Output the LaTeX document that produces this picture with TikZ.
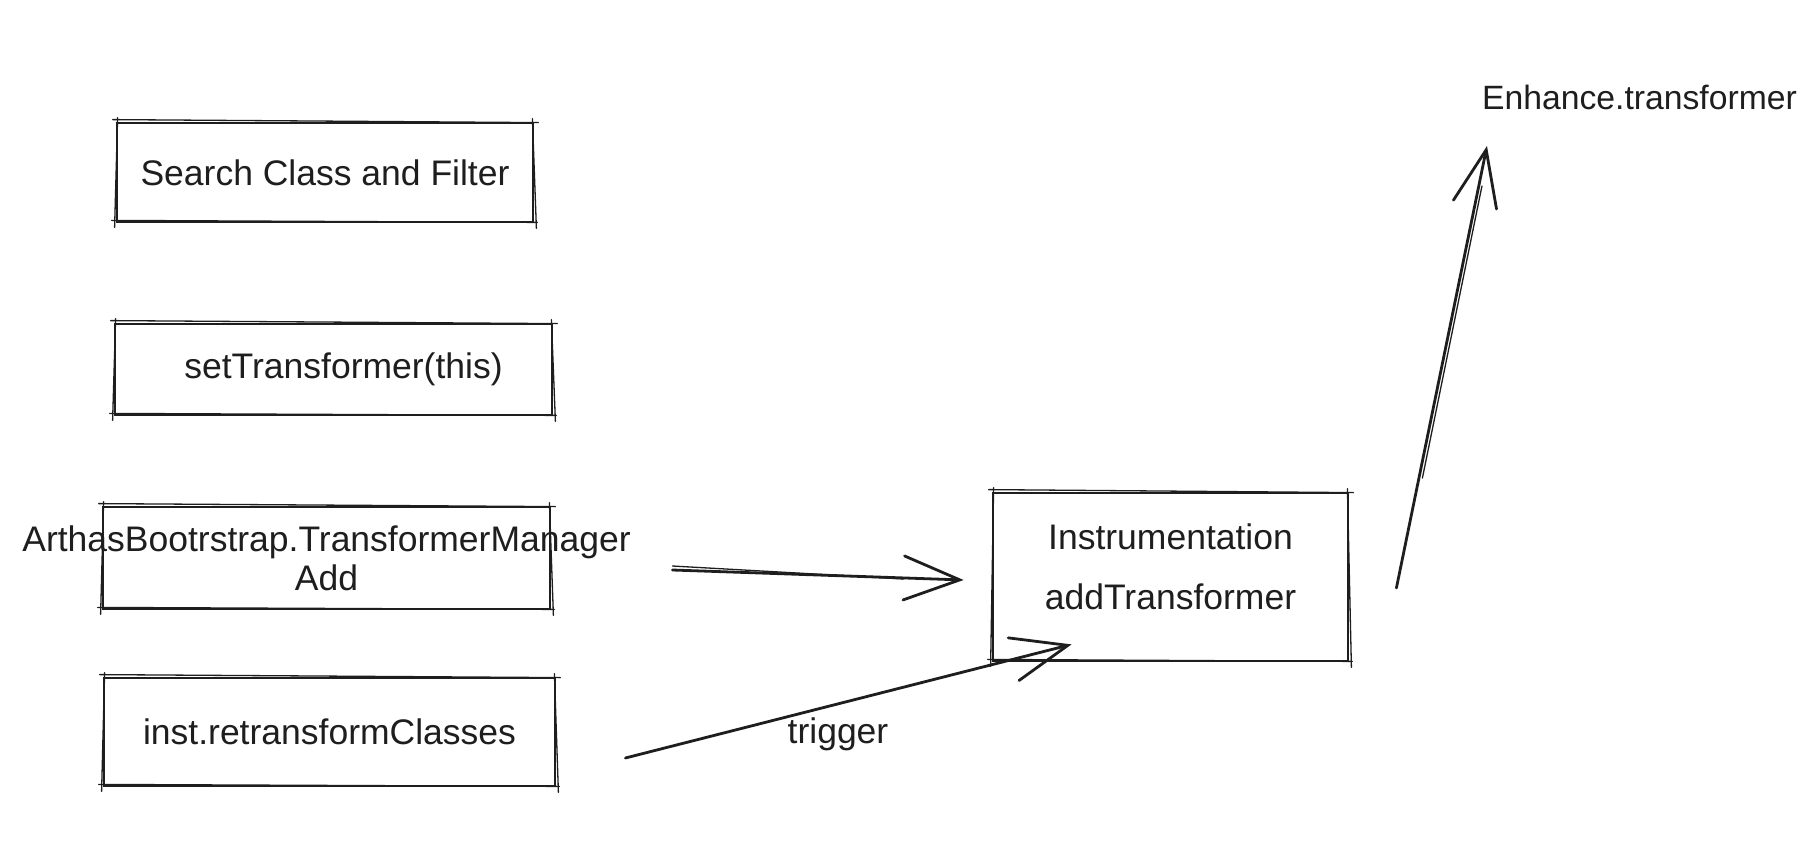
\documentclass[tikz,border=0pt]{standalone}
\usepackage{fontspec}
\setmainfont{Liberation Sans}
\usetikzlibrary{arrows.meta,calc}
\definecolor{ink}{HTML}{1E1E1E}
\newcommand\skbox[1]{%
 \draw[sk] ([shift={(-3,-2)}]#1.north west) -- ([shift={(4,1)}]#1.north east);
 \draw[sk] ([shift={(-4,-3)}]#1.south west) -- ([shift={(3,-1)}]#1.south east);
 \draw[sk] ([shift={(2,-4)}]#1.north west) -- ([shift={(-1,4)}]#1.south west);
 \draw[sk] ([shift={(-2,-3)}]#1.north east) -- ([shift={(2,5)}]#1.south east);}
\begin{document}
\begin{tikzpicture}[x=1pt,y=-1pt,
  box/.style={draw=ink, line width=2.8pt, rectangle, inner sep=0pt,
    font=\fontsize{35.5}{39}\selectfont, text=ink, align=center},
  lbl/.style={text=ink, inner sep=0pt, font=\fontsize{35.5}{39}\selectfont},
  arr/.style={draw=ink, line width=2.8pt, line cap=round,
    -{Straight Barb[length=56pt,width=44pt,line cap=round]}},
  sk/.style={draw=ink, line width=1.3pt, line cap=round}]
\useasboundingbox[fill=white] (0,0) rectangle (1814,850);

\node[box, minimum width=416pt, minimum height=99pt] (search) at (325,172.5) {Search Class and Filter};
\node[box, minimum width=437pt, minimum height=91pt] (settr) at (333.5,369.5) {\hspace*{20pt}setTransformer(this)};
\node[box, minimum width=447pt, minimum height=102pt] (arthas) at (326.5,558) {\makebox[0pt][c]{ArthasBootrstrap.TransformerManager}\\Add};
\node[box, minimum width=451pt, minimum height=108pt] (inst) at (329.5,732) {inst.retransformClasses};
\node[box, minimum width=355pt, minimum height=168pt, font=\fontsize{35.5}{60}\selectfont, text depth=20pt] (instr) at (1170.5,577) {Instrumentation\\addTransformer};
\node[lbl, anchor=base] (enh) at (1639.5,110) {\fontsize{33.7}{39}\selectfont Enhance.transformer};
\node[lbl, anchor=base] (trig) at (838,743) {trigger};

\skbox{search}
\skbox{settr}
\skbox{arthas}
\skbox{inst}
\skbox{instr}

\coordinate (a1s) at ($(arthas.east)+(121,12)$);
\coordinate (a1e) at ($(instr.west)+(-28,3)$);
\coordinate (a2s) at ($(inst.east)+(69,26)$);
\coordinate (a2e) at ($(instr.south west)+(80,-18)$);
\coordinate (a3s) at ($(instr.east)+(47,11)$);
\coordinate (a3e) at ($(enh.base west)+(5,36)$);

\draw[arr] (a1s) -- (a1e);
\draw[sk] ($(a1s)+(0,-4)$) -- ($(a1e)+(-60,-1)$);
\draw[arr] (a2s) -- (a2e);
\draw[arr] (a3s) -- (a3e);
\draw[sk] ($(a3s)+(26,-110)$) -- ($(a3e)+(-5,40)$);
\end{tikzpicture}
\end{document}
